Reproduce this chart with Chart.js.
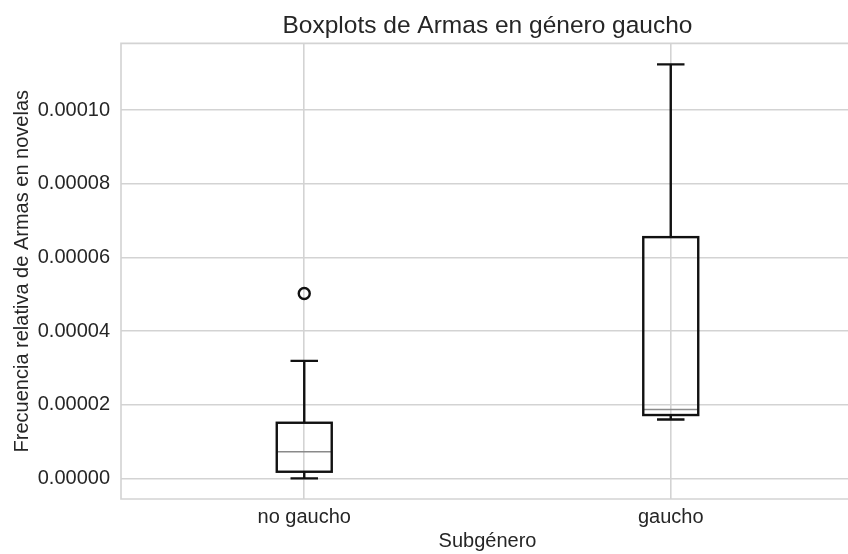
<!DOCTYPE html>
<html>
<head>
<meta charset="utf-8">
<script src="https://cdn.jsdelivr.net/npm/chart.js@4"></script>
<style>
html,body{margin:0;padding:0;background:#fff;overflow:hidden;width:848px;height:554px}
canvas{display:block}
</style>
</head>
<body>
<canvas id="c" width="975" height="554"></canvas>
<script>
/* ── data ── */
const categories=['no gaucho','gaucho'];
const positions=[1,2];
const whiskerLow=[0.0000000,0.0000160];
const q1=[0.0000018,0.0000172];
const median=[0.0000072,0.0000187];
const q3=[0.0000151,0.0000655];
const whiskerHigh=[0.0000319,0.0001124];
const outliers=[[0.0000502],[]];
const yTicks=[0,0.00002,0.00004,0.00006,0.00008,0.00010];

/* ── style ── */
const TXT='#262626', GRID='#d3d3d3', INK='#111111', MED='#8a8a8a';
const BOX_HALF=0.075, CAP_HALF=0.0375;
const FONT='"Liberation Sans", Arial, sans-serif';

const outlierPts=[];
outliers.forEach((arr,i)=>arr.forEach(v=>outlierPts.push({x:positions[i],y:v})));

const boxPlugin={
  id:'boxes',
  beforeDatasetsDraw(chart){
    const {ctx,chartArea:a}=chart;
    ctx.save();ctx.strokeStyle=GRID;ctx.lineWidth=1.6;
    ctx.beginPath();
    ctx.moveTo(a.right,a.top);ctx.lineTo(a.left,a.top);ctx.lineTo(a.left,a.bottom);ctx.lineTo(a.right,a.bottom);
    ctx.stroke();
    ctx.restore();
  },
  afterDatasetsDraw(chart){
    const {ctx,scales:{x,y}}=chart;
    ctx.save();ctx.lineCap='butt';
    positions.forEach((p,i)=>{
      const cx=x.getPixelForValue(p);
      const l=x.getPixelForValue(p-BOX_HALF), r=x.getPixelForValue(p+BOX_HALF);
      const cl=x.getPixelForValue(p-CAP_HALF), cr=x.getPixelForValue(p+CAP_HALF);
      const yq1=y.getPixelForValue(q1[i]), yq3=y.getPixelForValue(q3[i]);
      const ylo=y.getPixelForValue(whiskerLow[i]), yhi=y.getPixelForValue(whiskerHigh[i]);
      const ym=y.getPixelForValue(median[i]);
      // median
      ctx.strokeStyle=MED;ctx.lineWidth=1.5;
      ctx.beginPath();ctx.moveTo(l,ym);ctx.lineTo(r,ym);ctx.stroke();
      // box, whiskers, caps
      ctx.strokeStyle=INK;ctx.lineWidth=2.4;
      ctx.strokeRect(l,yq3,r-l,yq1-yq3);
      ctx.beginPath();
      ctx.moveTo(cx,yq3);ctx.lineTo(cx,yhi);
      ctx.moveTo(cx,yq1);ctx.lineTo(cx,ylo);
      ctx.moveTo(cl,yhi);ctx.lineTo(cr,yhi);
      ctx.moveTo(cl,ylo);ctx.lineTo(cr,ylo);
      ctx.stroke();
    });
    ctx.restore();
  }
};

Chart.defaults.font.family=FONT;
Chart.defaults.color=TXT;

new Chart(document.getElementById('c'),{
  type:'scatter',
  data:{datasets:[{
    label:'outliers',data:outlierPts,
    pointStyle:'circle',pointRadius:5.5,pointHoverRadius:5.5,
    borderColor:INK,borderWidth:2.4,backgroundColor:'rgba(0,0,0,0)'
  }]},
  options:{
    responsive:false,animation:false,
    layout:{padding:0},
    plugins:{
      legend:{display:false},tooltip:{enabled:false},
      title:{display:true,text:'Boxplots de Armas en género gaucho',color:TXT,
        font:{size:24.5,weight:'normal',family:FONT},padding:{top:12,bottom:2}}
    },
    scales:{
      x:{type:'linear',min:0.5,max:2.5,
        afterBuildTicks:s=>{s.ticks=positions.map(v=>({value:v}));},
        ticks:{callback:v=>categories[positions.indexOf(v)]??'',color:TXT,font:{size:20},padding:6,maxRotation:0},
        grid:{color:GRID,lineWidth:1.6,drawTicks:false},
        border:{display:false},
        title:{display:true,text:'Subgénero',color:TXT,font:{size:20},padding:{top:0,bottom:1}},
        afterFit:s=>{s.height=55;}
      },
      y:{min:-0.0000056,max:0.0001181,
        afterBuildTicks:s=>{s.ticks=yTicks.map(v=>({value:v}));},
        ticks:{callback:v=>v.toFixed(5),color:TXT,font:{size:20},padding:11},
        grid:{color:GRID,lineWidth:1.6,drawTicks:false},
        border:{display:false},
        title:{display:true,text:'Frecuencia relativa de Armas en novelas',color:TXT,font:{size:20},padding:{top:10,bottom:0}},
        afterFit:s=>{s.width=121;}
      },
      // empty mirror axis so the title centres over the plot, as in the original
      yMirror:{position:'right',min:-0.0000056,max:0.0001181,
        ticks:{display:false},grid:{display:false},border:{display:false},
        afterFit:s=>{s.width=121;}
      }
    }
  },
  plugins:[boxPlugin]
});
</script>
</body>
</html>
